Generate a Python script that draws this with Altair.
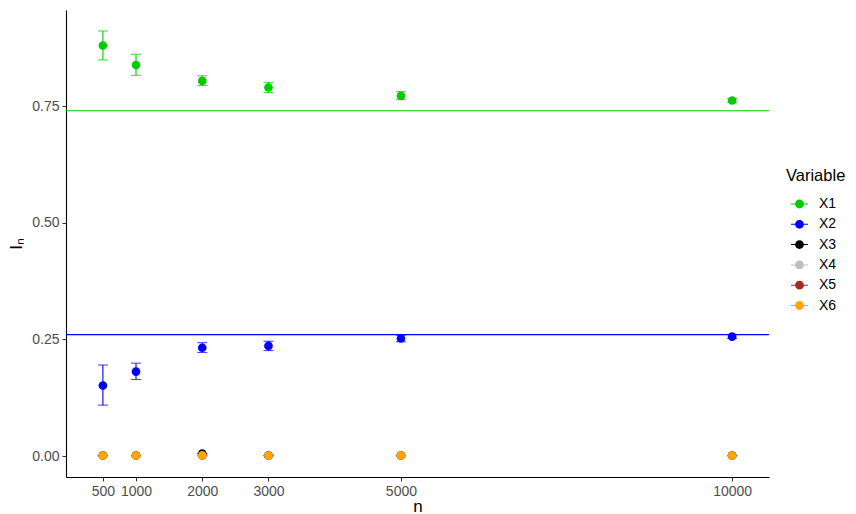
import altair as alt
import pandas as pd

n_values = [500, 1000, 2000, 3000, 5000, 10000]
variables = ["X1", "X2", "X3", "X4", "X5", "X6"]
colors = ["#00CD00", "#0000FF", "#000000", "#BEBEBE", "#A52A2A", "#FFA500"]

x1_mean = [0.880, 0.838, 0.804, 0.790, 0.772, 0.762]
x1_lower = [0.849, 0.816, 0.794, 0.779, 0.764, 0.758]
x1_upper = [0.911, 0.861, 0.815, 0.801, 0.781, 0.766]

x2_mean = [0.151, 0.181, 0.232, 0.236, 0.252, 0.256]
x2_lower = [0.109, 0.164, 0.222, 0.226, 0.245, 0.252]
x2_upper = [0.195, 0.199, 0.243, 0.246, 0.259, 0.260]

x3_mean = [0.001, 0.001, 0.005, 0.001, 0.001, 0.001]
x4_mean = [0.001, 0.001, 0.001, 0.001, 0.001, 0.001]
x5_mean = [0.001, 0.001, 0.001, 0.001, 0.001, 0.001]
x6_mean = [0.001, 0.001, 0.001, 0.001, 0.001, 0.001]

true_vars = ["X1", "X2"]
true_values = [0.74, 0.26]

x_ticks = [500, 1000, 2000, 3000, 5000, 10000]
y_ticks = [0.0, 0.25, 0.5, 0.75]

means = [x1_mean, x2_mean, x3_mean, x4_mean, x5_mean, x6_mean]
lowers = [x1_lower, x2_lower, x3_mean, x4_mean, x5_mean, x6_mean]
uppers = [x1_upper, x2_upper, x3_mean, x4_mean, x5_mean, x6_mean]

rows = []
for v, m, lo, hi in zip(variables, means, lowers, uppers):
    for n, a, b, c in zip(n_values, m, lo, hi):
        rows.append({"variable": v, "n": n, "mean": a, "lower": b, "upper": c})
df = pd.DataFrame(rows)
df_true = pd.DataFrame({"variable": true_vars, "value": true_values})

FONT = "Liberation Sans"
YTITLE = "Iₙ"

xscale = alt.Scale(domain=[-57, 10557], nice=False, zero=False)
yscale = alt.Scale(domain=[-0.045, 0.956], nice=False, zero=False)
cscale = alt.Scale(domain=variables, range=colors)

xaxis = alt.Axis(values=x_ticks, format="d", title="n", grid=False)
yaxis = alt.Axis(values=y_ticks, format=".2f", title=YTITLE, grid=False)

legend_symbol = "M-1,-0.06H1V0.06H-1Z M0.52,0A0.52,0.52 0 1,1 -0.52,0A0.52,0.52 0 1,1 0.52,0Z"

legend = alt.Legend(
    orient="none",
    legendX=720,
    legendY=158,
    symbolType=legend_symbol,
    symbolSize=289,
    symbolStrokeWidth=0,
    symbolOpacity=1,
    symbolOffset=5,
    titleFontSize=16.5,
    titleFontWeight="normal",
    titleColor="#000000",
    titleFont=FONT,
    labelFontSize=14,
    labelFont=FONT,
    labelColor="#000000",
    labelOffset=11,
    rowPadding=4.3,
    titlePadding=11,
    titleLimit=200,
)

color = alt.Color("variable:N", scale=cscale, title="Variable", legend=legend)

rules = alt.Chart(df_true).mark_rule(strokeWidth=1.2).encode(
    y=alt.Y("value:Q", scale=yscale, axis=yaxis, title=YTITLE),
    color=color,
)

errs = alt.Chart(df).mark_errorbar(ticks=True, size=10, thickness=1.1).encode(
    x=alt.X("n:Q", scale=xscale, axis=xaxis, title="n"),
    y=alt.Y("lower:Q", scale=yscale, axis=yaxis, title=YTITLE),
    y2="upper:Q",
    color=color,
)

points = alt.Chart(df).mark_point(filled=True, size=75, opacity=1).encode(
    x=alt.X("n:Q", scale=xscale, axis=xaxis, title="n"),
    y=alt.Y("mean:Q", scale=yscale, axis=yaxis, title=YTITLE),
    color=color,
)

chart = (
    alt.layer(rules, errs, points)
    .properties(
        width=703,
        height=467,
        autosize=alt.AutoSizeParams(type="none"),
        padding={"left": 58, "top": 2, "right": 79, "bottom": 38},
    )
    .configure_view(stroke=None)
    .configure_axis(
        domainColor="#000000",
        domainWidth=1.1,
        tickColor="#333333",
        tickSize=4,
        labelFont=FONT,
        labelFontSize=14,
        labelColor="#4D4D4D",
        titleFont=FONT,
        titleFontSize=17,
        titleFontWeight="normal",
        titleColor="#000000",
        labelPadding=3,
    )
    .configure_axisY(titlePadding=6)
    .configure_axisX(titlePadding=0)
)

chart.save("out.html", embed_options={"renderer": "svg", "actions": False})
